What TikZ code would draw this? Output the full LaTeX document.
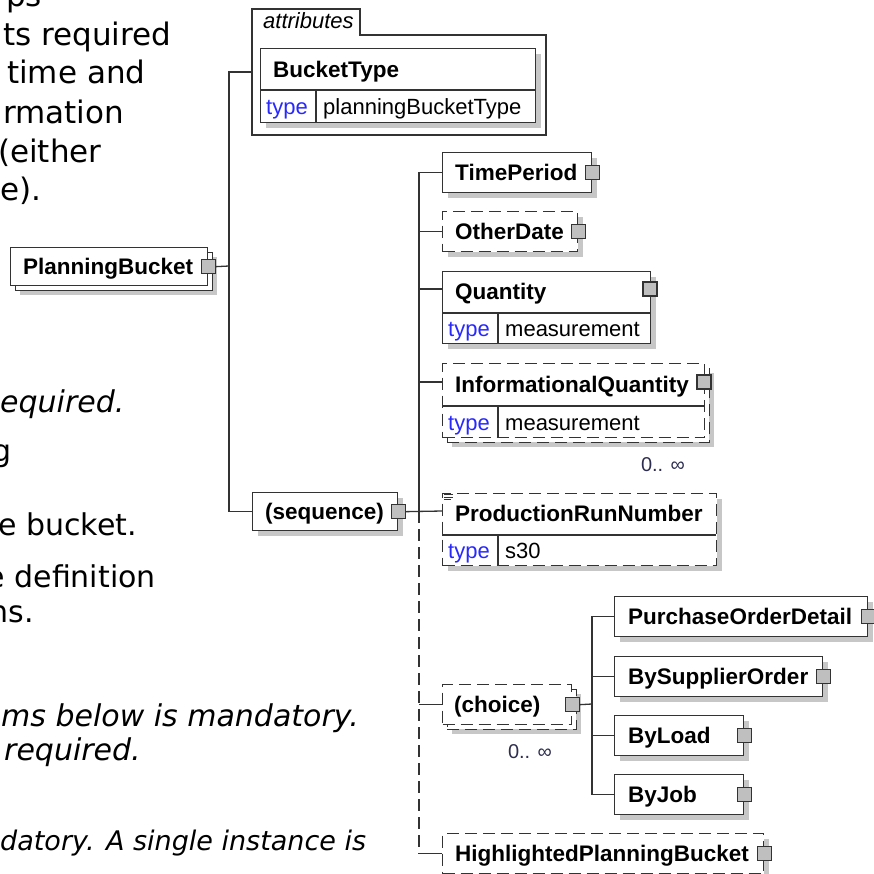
\documentclass[tikz,border=0pt]{standalone}
\usepackage{fontspec}
\setmainfont{Liberation Sans}
\newfontfamily\notefont{DejaVu Sans}
\usetikzlibrary{shadows}

\definecolor{typeblue}{RGB}{40,40,255}
\definecolor{occ}{RGB}{45,45,80}

\tikzset{
  link/.style={draw=black!80, line width=1.3pt},
  frame/.style={draw=black!80, line width=1.3pt, fill=white, inner sep=0pt, anchor=north west},
  shade/.style={drop shadow={shadow xshift=5pt, shadow yshift=-5pt, fill=black!22, opacity=1, draw=none}},
  stacked/.style={drop shadow={shadow xshift=9.5pt, shadow yshift=-9.5pt, fill=black!22, opacity=1, draw=none},
                  copy shadow={shadow xshift=4.5pt, shadow yshift=-4.5pt, fill=white, draw=black!80}},
  optional/.style={dash pattern=on 12pt off 6pt},
  sq/.style={draw=black!80, line width=1.3pt, fill=black!25, minimum size=14pt, inner sep=0pt},
  ename/.style={font=\fontsize{22.5}{27}\selectfont\bfseries, text height=16pt, text depth=0pt, inner sep=0pt, anchor=west},
  tval/.style={font=\fontsize{22}{26}\selectfont, text height=16pt, text depth=0pt, inner sep=0pt, anchor=west},
  tkey/.style={tval, text=typeblue},
  occurs/.style={font=\fontsize{20}{24}\selectfont, text=occ, inner sep=0pt},
  note/.style={font=\notefont\fontsize{30}{36}\selectfont, inner sep=0pt, anchor=base west},
  notebig/.style={note, font=\notefont\fontsize{31}{37}\selectfont},
  notei/.style={note, font=\notefont\fontsize{30}{36}\selectfont\itshape},
}

\begin{document}
\begin{tikzpicture}[x=1pt, y=-1pt]
\useasboundingbox (0,0) rectangle (874,873);
\clip (0,0) rectangle (874,873);

\node[notebig] (n1) at (6,6) {ps};
\node[notebig] (n2) at (3,45) {ts required};
\node[notebig] (n3) at (7,83) {time and};
\node[notebig] (n4) at (3,123) {rmation};
\node[notebig] (n5) at (-2,162) {(either};
\node[notebig] (n6) at (0,200) {e).};
\node[notei] (n7) at (0,412) {equired.};
\node[note, anchor=base east] (n8) at (12,461) {g};
\node[note, anchor=base east] (n9) at (137,535) {he bucket.};
\node[note, anchor=base east] (n10) at (156,587) {e definition};
\node[note, anchor=base east] (n11) at (34,622) {ns.};
\node[notei] (n12) at (1,726) {ms below is mandatory.};
\node[notei] (n13) at (4,760) {required.};
\node[notei, font=\notefont\fontsize{27}{32}\selectfont\itshape] (n14) at (0,850) {datory. A single instance is};

\node[frame, stacked, minimum width=197pt, minimum height=38pt] (pb) at (10,247) {};
\node[ename] (pb-n) at (23,266) {PlanningBucket};
\node[sq] (pb-sq) at (pb.east) {};
\coordinate (pb-j) at (229,266);

\draw[link] (252,135) -- (252,9) -- (360,9) -- (360,35) -- (546,35) -- (546,135) -- cycle;
\node[font=\fontsize{22}{26}\selectfont\itshape, inner sep=0pt, anchor=base west] (at-n) at (263,28) {attributes};
\coordinate (at-in) at (252,72);

\node[frame, shade, minimum width=275pt, minimum height=74pt] (bt) at (260,48) {};
\draw[link] (260,90) -- (535,90) (316,90) -- (316,122);
\node[ename] (bt-n) at (273,69) {BucketType};
\node[tkey] (bt-k) at (266,106) {type};
\node[tval] (bt-v) at (323,106) {planningBucketType};

\node[frame, shade, minimum width=145pt, minimum height=38pt] (seq) at (252,492) {};
\node[ename] (seq-n) at (265,511) {(sequence)};
\node[sq] (seq-sq) at (seq.east) {};
\coordinate (seq-j) at (419,511);

\node[frame, shade, minimum width=149pt, minimum height=40pt] (tp) at (442,152) {};
\node[ename] (tp-n) at (455,172) {TimePeriod};
\node[sq] (tp-sq) at (tp.east) {};

\node[frame, shade, optional, minimum width=135pt, minimum height=40pt] (od) at (442,211) {};
\node[ename] (od-n) at (455,231) {OtherDate};
\node[sq] (od-sq) at (od.east) {};

\node[frame, shade, minimum width=208pt, minimum height=72pt] (q) at (442,271) {};
\draw[link] (442,313) -- (650,313) (498,313) -- (498,343);
\node[ename] (q-n) at (455,291) {Quantity};
\node[tkey] (q-k) at (448,328) {type};
\node[tval] (q-v) at (505,328) {measurement};
\node[sq] (q-sq) at (650,289) {};

\node[frame, stacked, optional, minimum width=262pt, minimum height=74pt] (iq) at (442,363) {};
\draw[link] (442,406) -- (704,406) (498,406) -- (498,437);
\node[ename] (iq-n) at (455,384) {InformationalQuantity};
\node[tkey] (iq-k) at (448,422) {type};
\node[tval] (iq-v) at (505,422) {measurement};
\node[sq] (iq-sq) at (704,382) {};
\node[occurs] (iq-occ) at (663,465) {0.. ∞};

\node[frame, shade, optional, minimum width=274pt, minimum height=72pt] (prn) at (442,493) {};
\draw[link] (442,535) -- (716,535) (498,535) -- (498,565);
\draw[link, line width=0.8pt] (444,494.5) -- (453,494.5) (444,497) -- (453,497) (444,499.5) -- (451,499.5);
\node[ename] (prn-n) at (455,513) {ProductionRunNumber};
\node[tkey] (prn-k) at (448,550) {type};
\node[tval] (prn-v) at (505,550) {s30};

\node[frame, stacked, optional, minimum width=129pt, minimum height=40pt] (ch) at (442,684) {};
\node[ename] (ch-n) at (454,704) {(choice)};
\node[sq] (ch-sq) at (ch.east) {};
\node[occurs] (ch-occ) at (530,752) {0.. ∞};
\coordinate (ch-j) at (592,704);

\node[frame, shade, minimum width=253pt, minimum height=40pt] (pod) at (614,596) {};
\node[ename] (pod-n) at (628,616) {PurchaseOrderDetail};
\node[sq] (pod-sq) at (pod.east) {};

\node[frame, shade, minimum width=208pt, minimum height=40pt] (bso) at (614,656) {};
\node[ename] (bso-n) at (628,676) {BySupplierOrder};
\node[sq] (bso-sq) at (bso.east) {};

\node[frame, shade, minimum width=129pt, minimum height=40pt] (bl) at (614,715) {};
\node[ename] (bl-n) at (628,735) {ByLoad};
\node[sq] (bl-sq) at (bl.east) {};

\node[frame, shade, minimum width=129pt, minimum height=40pt] (bj) at (614,774) {};
\node[ename] (bj-n) at (628,794) {ByJob};
\node[sq] (bj-sq) at (bj.east) {};

\node[frame, shade, optional, minimum width=321pt, minimum height=40pt] (hpb) at (442,833) {};
\node[ename] (hpb-n) at (455,853) {HighlightedPlanningBucket};
\node[sq] (hpb-sq) at (hpb.east) {};

\draw[link] (pb-sq.east) -- (pb-j);
\draw[link] (at-in) -| (pb-j) |- (seq.west);

\draw[link] (seq-sq.east) -- (prn.west |- seq-j);
\draw[link] (tp.west) -| (seq-j);
\draw[link] (seq-j |- od.west) -- (od.west);
\draw[link] (seq-j |- q-sq) -- (q.west |- q-sq);
\draw[link] (seq-j |- iq-sq) -- (iq.west |- iq-sq);
\draw[link, optional] (seq-j) -- (seq-j |- hpb.west);
\draw[link] (seq-j |- ch.west) -- (ch.west);
\draw[link] (seq-j |- hpb.west) -- (hpb.west);

\draw[link] (ch-sq.east) -- (ch-j);
\draw[link] (pod.west) -| (ch-j) |- (bj.west);
\draw[link] (ch-j |- bso.west) -- (bso.west);
\draw[link] (ch-j |- bl.west) -- (bl.west);

\end{tikzpicture}
\end{document}
